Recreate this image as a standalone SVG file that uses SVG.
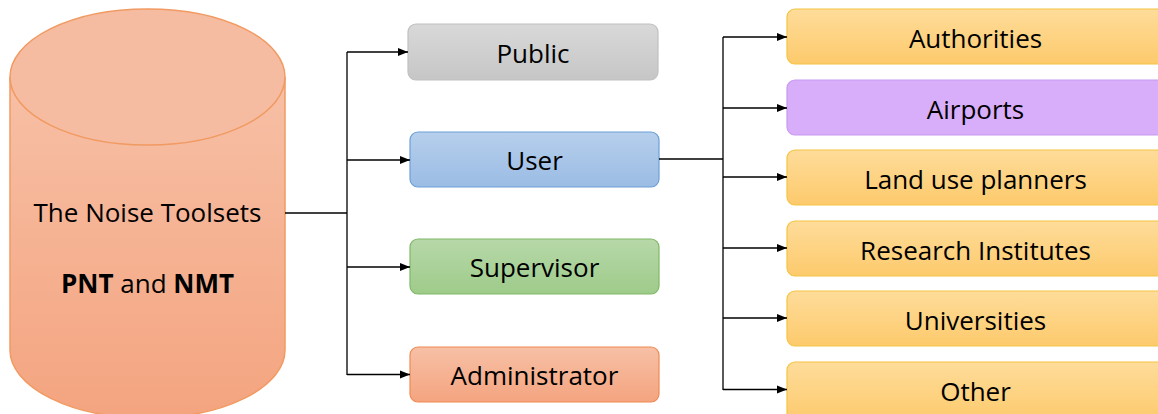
<svg xmlns="http://www.w3.org/2000/svg" width="1158" height="414" viewBox="0 0 1158 414">
<defs>
<linearGradient id="gCyl" x1="0" y1="0" x2="0" y2="1"><stop offset="0" stop-color="#f7c0a6"/><stop offset="1" stop-color="#f4a47f"/></linearGradient>
<linearGradient id="gGray" x1="0" y1="0" x2="0" y2="1"><stop offset="0" stop-color="#d9d9d9"/><stop offset="1" stop-color="#c6c6c6"/></linearGradient>
<linearGradient id="gBlue" x1="0" y1="0" x2="0" y2="1"><stop offset="0" stop-color="#b6cfec"/><stop offset="1" stop-color="#9bbce4"/></linearGradient>
<linearGradient id="gGreen" x1="0" y1="0" x2="0" y2="1"><stop offset="0" stop-color="#b7d8a9"/><stop offset="1" stop-color="#9ecb8a"/></linearGradient>
<linearGradient id="gOrange" x1="0" y1="0" x2="0" y2="1"><stop offset="0" stop-color="#f7c0a6"/><stop offset="1" stop-color="#f4a47f"/></linearGradient>
<linearGradient id="gYellow" x1="0" y1="0" x2="0" y2="1"><stop offset="0" stop-color="#fedc9a"/><stop offset="1" stop-color="#fdca6c"/></linearGradient>
<marker id="arr" viewBox="0 0 10 10" refX="10" refY="5" markerWidth="10" markerHeight="10" markerUnits="userSpaceOnUse" orient="auto"><path d="M0,1 L10,5 L0,9 z" fill="#000"/></marker>
</defs>
<style>
text{font-family:"Open Sans","Liberation Sans",sans-serif;font-size:26px;fill:#000;text-anchor:middle}
.box{stroke-width:1.2}
.con{fill:none;stroke:#000;stroke-width:1.3}
</style>
<g id="toolsets">
<path d="M10,77 L10,350 A137.5,68 0 0 0 285,350 L285,77" fill="url(#gCyl)" stroke="#f19a62" stroke-width="1.5"/>
<ellipse cx="147.5" cy="77" rx="137.5" ry="68" fill="#f6bca1" stroke="#f19a62" stroke-width="1.5"/>
<text x="147.5" y="222">The Noise Toolsets</text>
<text x="147.5" y="293"><tspan font-weight="bold">PNT</tspan> and <tspan font-weight="bold">NMT</tspan></text>
</g>
<g id="public"><rect class="box" x="408" y="24" width="250" height="56" rx="8" fill="url(#gGray)" stroke="#c0c0c0"/><text x="533" y="63">Public</text></g>
<g id="user"><rect class="box" x="410" y="132" width="249" height="55" rx="8" fill="url(#gBlue)" stroke="#6c9fd8"/><text x="534.5" y="170">User</text></g>
<g id="supervisor"><rect class="box" x="410" y="239" width="249" height="55" rx="8" fill="url(#gGreen)" stroke="#80b866"/><text x="534.5" y="277">Supervisor</text></g>
<g id="administrator"><rect class="box" x="410" y="347" width="249" height="55" rx="8" fill="url(#gOrange)" stroke="#f08a52"/><text x="534.5" y="385">Administrator</text></g>
<g id="authorities"><rect class="box" x="787" y="9" width="377" height="55" rx="8" fill="url(#gYellow)" stroke="#f6c342"/><text x="975.5" y="48">Authorities</text></g>
<g id="airports"><rect class="box" x="787" y="80" width="377" height="55" rx="8" fill="#d8adf9" stroke="#c99af2"/><text x="975.5" y="119">Airports</text></g>
<g id="landuse"><rect class="box" x="787" y="150" width="377" height="55" rx="8" fill="url(#gYellow)" stroke="#f6c342"/><text x="975.5" y="189">Land use planners</text></g>
<g id="research"><rect class="box" x="787" y="221" width="377" height="55" rx="8" fill="url(#gYellow)" stroke="#f6c342"/><text x="975.5" y="260">Research Institutes</text></g>
<g id="universities"><rect class="box" x="787" y="291" width="377" height="55" rx="8" fill="url(#gYellow)" stroke="#f6c342"/><text x="975.5" y="330">Universities</text></g>
<g id="other"><rect class="box" x="787" y="362" width="377" height="60" rx="8" fill="url(#gYellow)" stroke="#f6c342"/><text x="975.5" y="401">Other</text></g>
<g id="connectors">
<path class="con" d="M285,213 H347"/>
<path class="con" d="M347,52 V375"/>
<path class="con" d="M347,52 H408" marker-end="url(#arr)"/>
<path class="con" d="M347,160 H410" marker-end="url(#arr)"/>
<path class="con" d="M347,267 H410" marker-end="url(#arr)"/>
<path class="con" d="M347,374.5 H410" marker-end="url(#arr)"/>
<path class="con" d="M659,159 H723"/>
<path class="con" d="M723,37 V390"/>
<path class="con" d="M723,37 H787" marker-end="url(#arr)"/>
<path class="con" d="M723,108 H787" marker-end="url(#arr)"/>
<path class="con" d="M723,177 H787" marker-end="url(#arr)"/>
<path class="con" d="M723,248 H787" marker-end="url(#arr)"/>
<path class="con" d="M723,318 H787" marker-end="url(#arr)"/>
<path class="con" d="M723,389.5 H787" marker-end="url(#arr)"/>
</g>
</svg>
